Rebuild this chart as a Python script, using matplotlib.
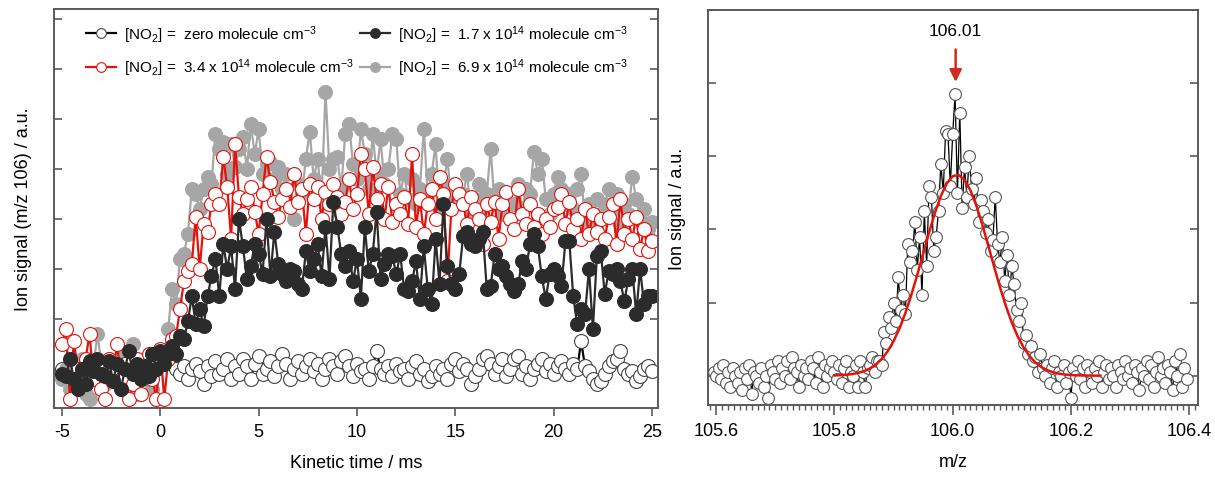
import numpy as np
import matplotlib
matplotlib.use('Agg')
import matplotlib.pyplot as plt
from matplotlib.ticker import MultipleLocator, NullFormatter, FormatStrFormatter

plt.rcParams['font.family'] = ['Liberation Sans', 'DejaVu Sans']
plt.rcParams['mathtext.fontset'] = 'custom'
plt.rcParams['mathtext.rm'] = 'Liberation Sans'
plt.rcParams['mathtext.it'] = 'Liberation Sans:italic'
plt.rcParams['axes.unicode_minus'] = False

# ---- left panel: kinetic traces, 0.2 ms sampling from -5 to 25 ms
t = np.linspace(-5, 25, 151)

zero_no2 = [0.0, -0.1, 0.1, -0.05, 0.05, -0.1, 0.0, 0.1, -0.1, 0.05,
            0.0, -0.1, 0.1, 0.0, -0.05, 0.05, -0.1, 0.0, 0.1, -0.05,
            0.0, 0.1, -0.1, 0.05, 0.0,
            0.3, 0.15, 0.35, 0.1, 0.0, -0.1, 0.05, -0.2, 0.0, 0.1,
            -0.05, -0.3, 0.05, -0.15, 0.15, -0.1, 0.0, 0.2, -0.2, 0.05,
            -0.1, 0.2, 0.05, -0.2, 0.1, 0.25, -0.1, 0.0, 0.15, -0.15,
            0.05, 0.3, 0.1, -0.2, 0.0, 0.15, -0.1, 0.05, 0.2, -0.05,
            0.1, -0.2, 0.0, 0.2, 0.05, -0.1, 0.15, 0.25, 0.05, -0.15,
            0.1, -0.05, 0.0, -0.2, 0.05, 0.35, 0.0, -0.1, 0.05, -0.15,
            0.1, -0.05, 0.0, -0.2, 0.05, 0.15, -0.1, 0.0, -0.25, -0.15,
            0.05, -0.1, 0.0, -0.2, 0.1, 0.2, -0.05, 0.1, 0.0, -0.3,
            -0.15, 0.0, 0.2, 0.25, 0.1, -0.1, 0.05, 0.2, -0.15, 0.0,
            0.2, 0.25, -0.1, 0.05, -0.2, 0.0, 0.1, 0.2, -0.05, 0.1,
            -0.1, 0.05, 0.15, 0.0, -0.1, 0.1, 0.0, 0.55, 0.05, -0.05,
            -0.2, -0.3, -0.25, -0.1, 0.05, 0.15, 0.2, 0.35, 0.0, -0.1,
            -0.05, -0.25, -0.15, 0.0, 0.05, -0.05]

no2_17 = [-0.1, -0.15, 0.2, -0.2, -0.4, 0.0, -0.3, 0.15, -0.05, 0.2,
          -0.1, -0.15, 0.15, -0.25, 0.1, -0.4, 0.0, 0.35, -0.1, 0.1,
          -0.2, 0.05, -0.15, 0.3, 0.0,
          0.35, 0.1, 0.3, 0.45, 0.3, 0.65, 0.6, 0.95, 1.45, 0.9,
          1.2, 0.85, 1.45, 1.85, 2.2, 1.45, 2.5, 2.0, 2.45, 1.6,
          3.0, 2.45, 1.8, 2.05, 2.5, 2.3, 1.9, 3.0, 1.85, 2.75,
          2.1, 1.9, 1.75, 2.0, 1.95, 1.7, 1.6, 2.35, 1.95, 2.2,
          2.5, 1.85, 2.85, 1.8, 3.35, 2.85, 2.3, 2.05, 2.35, 1.75,
          2.2, 1.4, 2.85, 1.95, 2.3, 3.15, 1.8, 2.1, 2.3, 2.25,
          1.9, 2.3, 1.6, 1.55, 1.75, 2.15, 1.4, 2.45, 1.6, 1.3,
          2.6, 1.7, 3.3, 2.05, 1.7, 1.6, 1.9, 2.65, 2.75, 2.5,
          2.45, 2.6, 2.75, 1.6, 1.65, 2.3, 2.0, 2.05, 1.85, 1.7,
          1.55, 1.7, 2.15, 2.0, 2.5, 2.7, 2.45, 1.85, 1.4, 1.9,
          2.0, 1.85, 1.65, 2.55, 2.55, 1.45, 0.9, 1.2, 1.1, 2.0,
          0.8, 2.25, 2.35, 1.5, 1.95, 1.9, 2.0, 1.75, 1.35, 1.8,
          2.0, 1.1, 2.0, 1.3, 1.45, 1.45]

no2_34 = [0.5, 0.8, -0.6, 0.55, 0.0, -0.3, 0.2, 0.7, -0.2, 0.1,
          -0.4, -0.6, 0.2, -0.1, 0.5, -0.2, 0.1, -0.6, -0.3, 0.2,
          -0.5, 0.0, 0.3, -0.2, -0.6,
          0.4, -0.6, 0.2, 0.6, 0.65, 1.2, 1.75, 1.95, 2.1, 3.05,
          2.0, 2.9, 2.75, 3.3, 3.5, 3.3, 4.25, 3.65, 2.6, 4.5,
          3.45, 3.1, 3.4, 3.65, 3.15, 2.7, 3.5, 4.25, 3.75, 3.35,
          3.05, 3.4, 3.6, 3.25, 3.9, 3.35, 3.6, 2.7, 3.7, 3.4,
          3.65, 3.0, 3.55, 3.3, 3.7, 3.45, 3.1, 3.35, 3.8, 3.2,
          3.5, 4.3, 4.0, 3.1, 4.05, 3.4, 3.7, 3.0, 3.65, 2.95,
          3.3, 3.1, 3.45, 2.9, 4.3, 2.85, 3.4, 2.7, 3.3, 3.6,
          3.0, 3.85, 3.5, 1.75, 3.2, 3.7, 3.5, 3.3, 2.9, 3.45,
          3.2, 3.0, 2.5, 3.3, 2.95, 3.35, 2.6, 3.3, 3.55, 3.0,
          2.8, 3.6, 3.1, 2.9, 3.3, 2.85, 3.1, 2.7, 3.0, 2.85,
          3.2, 3.25, 3.5, 2.9, 3.35, 2.8, 3.0, 2.6, 3.2, 2.7,
          3.1, 2.75, 3.0, 2.6, 3.05, 3.3, 2.5, 3.4, 2.7, 3.0,
          2.6, 3.05, 2.4, 2.8, 2.35, 2.55]

no2_69 = [-0.2, 0.0, -0.4, 0.1, -0.3, 0.2, -0.5, -0.6, 0.05, 0.7,
          0.1, -0.3, 0.2, -0.2, 0.0, -0.4, 0.3, -0.1, 0.5, -0.5,
          0.1, -0.2, 0.2, -0.4, 0.0,
          0.1, 0.3, 0.8, 1.6, 1.3, 2.2, 2.3, 2.7, 3.6, 3.5,
          3.2, 3.6, 3.85, 3.7, 4.7, 4.4, 4.55, 3.9, 4.5, 4.05,
          4.4, 4.65, 4.0, 4.9, 4.3, 4.8, 3.9, 4.1, 4.15, 3.8,
          4.05, 3.6, 3.9, 3.3, 3.0, 3.7, 3.5, 4.2, 4.75, 3.8,
          4.2, 3.4, 5.55, 4.0, 4.2, 4.25, 3.6, 4.7, 4.9, 4.1,
          3.8, 4.8, 4.3, 3.6, 4.7, 3.9, 4.6, 3.7, 4.0, 4.7,
          4.6, 3.5, 3.9, 3.4, 3.8, 3.3, 3.6, 4.8, 3.5, 3.9,
          4.5, 3.2, 3.7, 4.2, 3.4, 3.6, 3.3, 3.5, 3.9, 3.1,
          3.4, 3.7, 3.2, 3.5, 4.4, 3.3, 3.6, 3.1, 3.4, 3.0,
          3.3, 3.7, 3.2, 3.6, 3.5, 4.35, 3.9, 4.2, 3.4, 3.1,
          3.5, 3.85, 3.6, 3.3, 3.5, 3.2, 3.6, 3.9, 2.9, 3.3,
          3.0, 3.4, 3.1, 3.3, 3.6, 3.2, 3.5, 2.9, 3.3, 3.1,
          3.85, 3.4, 3.0, 3.2, 2.8, 2.95]

# ---- right panel: mass spectrum around m/z 106, 0.004 steps
mz = np.round(np.linspace(105.596, 106.396, 201), 3)
signal = [0.05, 0.0, 0.1, -0.05, 0.15, -0.1, 0.05, -0.15, 0.1, 0.0,
          -0.1, 0.05, -0.2, 0.1, -0.05, 0.15, -0.25, 0.05, 0.0, -0.1,
          0.1, -0.15, 0.0, -0.3, 0.15, 0.05, -0.05, 0.2, -0.1, 0.1,
          0.0, 0.2, -0.05, 0.25, 0.1, 0.05, -0.15, 0.15, 0.0, 0.1,
          -0.05, 0.2, 0.1, -0.1, 0.25, 0.05, -0.15, 0.15, 0.0, 0.1,
          0.2, 0.05, -0.05, 0.15, -0.1, 0.1, 0.2, -0.15, 0.05, 0.0,
          0.15, -0.15, 0.2, 0.05, -0.15, 0.1, 0.15, 0.25, 0.05, 0.2,
          0.2, 0.15, 0.6, 0.45, 0.8, 0.65, 1.0, 0.75, 1.35, 0.9,
          1.1, 0.85, 1.8, 1.55, 1.7, 2.1, 1.45, 1.9, 1.1, 2.25,
          1.5, 2.6, 2.45, 1.7, 1.9, 2.25, 2.9, 2.5, 3.35, 3.3,
          2.6, 3.3, 3.85, 2.5, 3.6, 2.3, 2.85, 2.45, 3.0, 2.55,
          2.35, 2.7, 2.1, 2.4, 2.25, 1.95, 2.15, 1.7, 1.85, 2.45,
          1.8, 1.55, 1.9, 1.3, 1.65, 1.1, 1.5, 1.25, 0.9, 0.75,
          1.0, 0.45, 0.55, 0.3, 0.4, 0.2, 0.25, 0.05, 0.3, 0.1,
          0.0, 0.15, -0.1, 0.1, 0.2, -0.15, 0.05, 0.0, 0.15, -0.1,
          0.05, -0.3, 0.1, 0.0, 0.2, -0.05, 0.1, -0.15, 0.15, 0.05,
          -0.1, 0.1, 0.0, 0.2, -0.15, 0.05, 0.15, -0.05, 0.1, 0.0,
          -0.15, 0.15, 0.05, -0.05, 0.2, 0.0, 0.1, -0.1, 0.15, 0.05,
          -0.2, 0.1, 0.0, 0.2, -0.05, 0.15, -0.15, 0.05, 0.25, 0.0,
          0.1, -0.1, 0.15, 0.05, -0.2, 0.2, 0.0, 0.3, -0.15, 0.1,
          -0.05]

# gaussian fit, every 0.01
fit_mz = np.round(np.linspace(105.80, 106.25, 46), 2)
fit_val = [0.004, 0.007, 0.013, 0.022, 0.038, 0.062, 0.099, 0.153, 0.230, 0.334,
           0.472, 0.646, 0.858, 1.105, 1.378, 1.668, 1.957, 2.228, 2.458, 2.630,
           2.729, 2.746, 2.679, 2.535, 2.326, 2.069, 1.785, 1.493, 1.211, 0.953,
           0.727, 0.537, 0.385, 0.268, 0.181, 0.118, 0.075, 0.046, 0.028, 0.016,
           0.009, 0.005, 0.003, 0.002, 0.001, 0.0]

peak_mz = 106.005
peak_label = '106.01'

spine_col = '#5a5a5a'
fig = plt.figure(figsize=(12.15, 4.85), dpi=100)
ax1 = fig.add_axes([0.0444, 0.157, 0.497, 0.822])
ax2 = fig.add_axes([0.5827, 0.163, 0.4033, 0.814])

# left panel
l0, = ax1.plot(t, zero_no2, '-o', color='black', lw=1.6, ms=10,
               mfc='white', mec='#444444', mew=0.8)
l3, = ax1.plot(t, no2_69, '-o', color='#a6a6a6', lw=1.6, ms=10,
               mfc='#a6a6a6', mec='#a6a6a6', mew=0.8)
l2, = ax1.plot(t, no2_34, '-o', color='#e3120b', lw=1.6, ms=10,
               mfc='white', mec='#e3120b', mew=0.8)
l1, = ax1.plot(t, no2_17, '-o', color='#2b2b2b', lw=1.6, ms=10,
               mfc='#2b2b2b', mec='#2b2b2b', mew=0.8)

labels = [r'[NO$_2$] =  zero molecule cm$^{-3}$',
          r'[NO$_2$] =  3.4 x 10$^{14}$ molecule cm$^{-3}$',
          r'[NO$_2$] =  1.7 x 10$^{14}$ molecule cm$^{-3}$',
          r'[NO$_2$] =  6.9 x 10$^{14}$ molecule cm$^{-3}$']
ax1.legend([l0, l2, l1, l3], labels, ncol=2, loc='upper left',
           bbox_to_anchor=(0.03, 1.0), frameon=False, fontsize=11,
           handlelength=2.0, handletextpad=0.5, columnspacing=0.4,
           labelspacing=0.8, markerscale=0.7)

ax1.set_xlim(-5.41, 25.3)
ax1.set_ylim(-0.78, 7.2)
ax1.xaxis.set_major_locator(MultipleLocator(5))
ax1.yaxis.set_major_locator(MultipleLocator(1))
ax1.yaxis.set_major_formatter(NullFormatter())
ax1.tick_params(axis='y', direction='in', left=True, right=True, length=6,
                width=1.2, color=spine_col)
ax1.tick_params(axis='x', direction='out', length=6, width=1.2,
                color=spine_col, labelsize=13, pad=5)
ax1.set_xlabel('Kinetic time / ms', fontsize=13, labelpad=10)
ax1.set_ylabel('Ion signal (m/z 106) / a.u.', fontsize=13, labelpad=12)

# right panel
ax2.plot(mz, signal, '-o', color='black', lw=0.9, ms=8.5, mfc='white',
         mec='#555555', mew=0.8)
ax2.plot(fit_mz, fit_val, '-', color='#e3120b', lw=1.8)
ax2.annotate('', xy=(peak_mz, 3.98), xytext=(peak_mz, 4.5),
             arrowprops=dict(arrowstyle='-|>', color='#d42a1e', lw=1.8,
                             mutation_scale=18))
ax2.text(peak_mz, 4.62, peak_label, ha='center', va='bottom', fontsize=12.5)

ax2.set_xlim(105.586, 106.415)
ax2.set_ylim(-0.4, 5.0)
ax2.xaxis.set_major_locator(MultipleLocator(0.2))
ax2.xaxis.set_minor_locator(MultipleLocator(0.01))
ax2.xaxis.set_major_formatter(FormatStrFormatter('%.1f'))
ax2.yaxis.set_major_locator(MultipleLocator(1))
ax2.yaxis.set_major_formatter(NullFormatter())
ax2.tick_params(axis='y', direction='in', left=True, right=True, length=6,
                width=1.2, color=spine_col)
ax2.tick_params(axis='x', which='major', direction='out', length=7, width=1.2,
                color=spine_col, labelsize=13, pad=5)
ax2.tick_params(axis='x', which='minor', direction='out', length=3.5,
                width=1.0, color=spine_col)
ax2.set_xlabel('m/z', fontsize=13, labelpad=10)
ax2.set_ylabel('Ion signal / a.u.', fontsize=13, labelpad=12)

for ax in (ax1, ax2):
    for s in ax.spines.values():
        s.set_color(spine_col)
        s.set_linewidth(1.4)

fig.savefig('out.png', dpi=100)
